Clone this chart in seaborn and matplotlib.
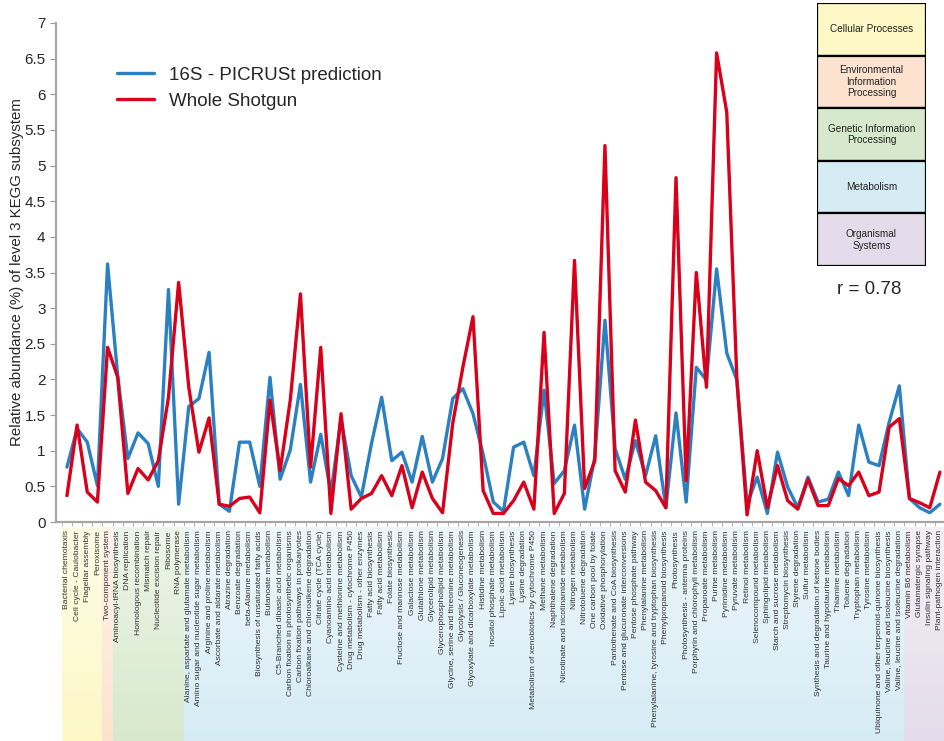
import numpy as np
import pandas as pd
import matplotlib
matplotlib.use("Agg")
import matplotlib.pyplot as plt
import matplotlib.ticker as ticker
from matplotlib.patches import Rectangle
from matplotlib.colors import to_rgb
import seaborn as sns

pathways = [
    "Bacterial chemotaxis", "Cell cycle - Caulobacter", "Flagellar assembly", "Peroxisome",
    "Two-component system",
    "Aminoacyl-tRNA biosynthesis", "DNA replication", "Homologous recombination",
    "Mismatch repair", "Nucleotide excision repair", "Ribosome", "RNA polymerase",
    "Alanine, aspartate and glutamate metabolism", "Amino sugar and nucleotide sugar metabolism",
    "Arginine and proline metabolism", "Ascorbate and aldarate metabolism", "Atrazine degradation",
    "Benzoate degradation", "beta-Alanine metabolism", "Biosynthesis of unsaturated fatty acids",
    "Butanoate metabolism", "C5-Branched dibasic acid metabolism",
    "Carbon fixation in photosynthetic organisms", "Carbon fixation pathways in prokaryotes",
    "Chloroalkane and chloroalkene degradation", "Citrate cycle (TCA cycle)",
    "Cyanoamino acid metabolism", "Cysteine and methionine metabolism",
    "Drug metabolism - cytochrome P450", "Drug metabolism - other enzymes",
    "Fatty acid biosynthesis", "Fatty acid metabolism", "Folate biosynthesis",
    "Fructose and mannose metabolism", "Galactose metabolism", "Glutathione metabolism",
    "Glycerolipid metabolism", "Glycerophospholipid metabolism",
    "Glycine, serine and threonine metabolism", "Glycolysis / Gluconeogenesis",
    "Glyoxylate and dicarboxylate metabolism", "Histidine metabolism",
    "Inositol phosphate metabolism", "Lipoic acid metabolism", "Lysine biosynthesis",
    "Lysine degradation", "Metabolism of xenobiotics by cytochrome P450", "Methane metabolism",
    "Naphthalene degradation", "Nicotinate and nicotinamide metabolism", "Nitrogen metabolism",
    "Nitrotoluene degradation", "One carbon pool by folate", "Oxidative phosphorylation",
    "Pantothenate and CoA biosynthesis", "Pentose and glucuronate interconversions",
    "Pentose phosphate pathway", "Phenylalanine metabolism",
    "Phenylalanine, tyrosine and tryptophan biosynthesis", "Phenylpropanoid biosynthesis",
    "Photosynthesis", "Photosynthesis - antenna proteins", "Porphyrin and chlorophyll metabolism",
    "Propanoate metabolism", "Purine metabolism", "Pyrimidine metabolism", "Pyruvate metabolism",
    "Retinol metabolism", "Selenocompound metabolism", "Sphingolipid metabolism",
    "Starch and sucrose metabolism", "Streptomycin biosynthesis", "Styrene degradation",
    "Sulfur metabolism", "Synthesis and degradation of ketone bodies",
    "Taurine and hypotaurine metabolism", "Thiamine metabolism", "Toluene degradation",
    "Tryptophan metabolism", "Tyrosine metabolism",
    "Ubiquinone and other terpenoid-quinone biosynthesis",
    "Valine, leucine and isoleucine biosynthesis", "Valine, leucine and isoleucine degradation",
    "Vitamin B6 metabolism", "Glutamatergic synapse", "Insulin signaling pathway",
    "Plant-pathogen interaction",
]

picrust = [
    0.77, 1.31, 1.12, 0.51, 3.62, 2.05, 0.89, 1.25, 1.10, 0.50, 3.26, 0.25,
    1.62, 1.73, 2.38, 0.25, 0.15, 1.12, 1.12, 0.50, 2.03, 0.60, 1.01, 1.93,
    0.56, 1.23, 0.40, 1.45, 0.65, 0.35, 1.10, 1.75, 0.86, 0.98, 0.56, 1.20,
    0.56, 0.89, 1.73, 1.87, 1.52, 0.95, 0.28, 0.15, 1.05, 1.12, 0.65, 1.85,
    0.54, 0.72, 1.36, 0.18, 0.91, 2.83, 1.03, 0.60, 1.14, 0.65, 1.21, 0.20,
    1.53, 0.28, 2.17, 1.99, 3.55, 2.37, 1.99, 0.25, 0.63, 0.12, 0.98, 0.49,
    0.20, 0.63, 0.28, 0.32, 0.70, 0.37, 1.36, 0.84, 0.79, 1.40, 1.91, 0.33,
    0.20, 0.13, 0.25,
]

shotgun = [
    0.37, 1.36, 0.42, 0.28, 2.45, 2.03, 0.40, 0.75, 0.59, 0.86, 1.75, 3.36,
    1.89, 0.98, 1.46, 0.25, 0.22, 0.33, 0.35, 0.13, 1.71, 0.72, 1.71, 3.20,
    0.77, 2.45, 0.12, 1.52, 0.18, 0.33, 0.40, 0.65, 0.37, 0.79, 0.20, 0.70,
    0.33, 0.13, 1.38, 2.17, 2.88, 0.44, 0.12, 0.12, 0.30, 0.56, 0.18, 2.66,
    0.12, 0.40, 3.67, 0.47, 0.86, 5.28, 0.72, 0.42, 1.43, 0.56, 0.44, 0.20,
    4.83, 0.58, 3.50, 1.89, 6.58, 5.75, 1.99, 0.10, 1.00, 0.20, 0.79, 0.30,
    0.18, 0.60, 0.23, 0.23, 0.61, 0.51, 0.70, 0.37, 0.42, 1.33, 1.45, 0.33,
    0.27, 0.20, 0.70,
]

# KEGG level 1 groups: (first index, last index)
groups = ["Cellular Processes", "Environmental\nInformation\nProcessing",
          "Genetic Information\nProcessing", "Metabolism", "Organismal\nSystems"]
group_spans = [(0, 3), (4, 4), (5, 11), (12, 82), (83, 86)]
group_colors = ["#fdf8c6", "#fde3cf", "#d7e9cc", "#d6ecf5", "#e4dcea"]

series_names = ["16S - PICRUSt prediction", "Whole Shotgun"]
series_colors = ["#2b80c2", "#d9001b"]

pos = np.arange(len(pathways))
df = pd.DataFrame({
    "pos": np.concatenate([pos, pos]),
    "value": picrust + shotgun,
    "series": [series_names[0]] * len(pos) + [series_names[1]] * len(pos),
})

sns.set_style("white")
plt.rcParams["font.family"] = ["Liberation Sans", "DejaVu Sans"]

fig = plt.figure(figsize=(9.45, 7.41), dpi=100)
L, W = 56 / 945, 1 - 56 / 945
ax = fig.add_axes([L, 1 - 522 / 741, W, (522 - 23) / 741])
ax.set_zorder(1)
XLIM = (-1.08, 86.5)

sns.lineplot(data=df, x="pos", y="value", hue="series", palette=series_colors,
             linewidth=2.4, ax=ax, zorder=3)

ax.set_xlim(*XLIM)
ax.set_ylim(0, 7)
ax.yaxis.set_major_locator(ticker.MultipleLocator(0.5))
ax.yaxis.set_major_formatter(ticker.FuncFormatter(lambda v, p: f"{v:g}"))
ax.set_xticks(pos)
ax.set_xticklabels(pathways, rotation=90, fontsize=6.1, color="#333333")
ax.xaxis.set_minor_locator(ticker.FixedLocator(pos - 0.5))
ax.tick_params(axis="x", which="major", length=0, pad=6)
ax.tick_params(axis="x", which="minor", length=3, color="#aaaaaa", bottom=True)
ax.tick_params(axis="y", length=4, color="#999999", labelsize=11, left=True)
ax.set_xlabel("")
ax.set_ylabel("Relative abundance (%) of level 3 KEGG subsystem", fontsize=10.8)
ax.yaxis.set_label_coords(-0.036, 0.5)
sns.despine(ax=ax)
for s in ["left", "bottom"]:
    ax.spines[s].set_color("#a6a6a6")
    ax.spines[s].set_linewidth(1.6)

# coloured bands under the axis, fading a little towards the top
bax = fig.add_axes([L, 0, W, 1 - 527 / 741])
bax.set_zorder(0)
for (i0, i1), col in zip(group_spans, group_colors):
    c = np.array(to_rgb(col))
    fade = np.linspace(0.0, 0.55, 64)[:, None]
    grad = c[None, :] * (1 - fade) + fade
    bax.imshow(grad[:, None, :], extent=(i0 - 0.5, i1 + 0.5, 0, 1), origin="lower",
               aspect="auto", interpolation="bilinear")
bax.set_xlim(*XLIM)
bax.set_ylim(0, 1)
bax.axis("off")

handles, labels = ax.get_legend_handles_labels()
ax.legend(handles, labels, loc="upper left", bbox_to_anchor=(100 / 945, 1 - 50 / 741),
          bbox_transform=fig.transFigure, frameon=False, fontsize=13.5,
          handlelength=2.0, labelspacing=0.45)

# category key box
kax = fig.add_axes([817 / 945, 1 - 266 / 741, 109 / 945, 263 / 741])
kax.set_zorder(2)
n = len(groups)
for k, (name, col) in enumerate(zip(groups, group_colors)):
    y0 = n - 1 - k
    kax.add_patch(Rectangle((0, y0), 1, 1, facecolor=col, edgecolor="black", linewidth=1.6))
    kax.text(0.5, y0 + 0.5, name, ha="center", va="center", fontsize=7.2, color="#222222")
kax.set_xlim(0, 1)
kax.set_ylim(0, n)
kax.axis("off")

fig.text(869 / 945, 1 - 290 / 741, "r = 0.78", ha="center", va="center", fontsize=13.5)

fig.savefig("out.png", dpi=100)
